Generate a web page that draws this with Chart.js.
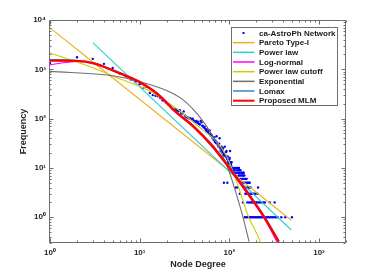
<!DOCTYPE html>
<html>
<head>
<meta charset="utf-8">
<script src="https://cdn.jsdelivr.net/npm/chart.js@4"></script>
<style>
  html, body { margin: 0; padding: 0; background: #fff; }
  canvas { display: block; }
</style>
</head>
<body>
<canvas id="degreeChart" width="382" height="273"></canvas>
<script>
// ---- data ----
const xTickValues = [1, 10, 100, 1000];
const xTickLabels = ['10⁰', '10¹', '10²', '10³'];
const yTickValues = [1, 10, 100, 1000, 10000];
const yTickLabels = ['10⁰', '10¹', '10²', '10³', '10⁴'];

const seriesNames = ['ca-AstroPh Network', 'Pareto Type-I', 'Power law', 'Log-normal',
                     'Power law cutoff', 'Exponential', 'Lomax', 'Proposed MLM'];

// observed degree distribution, one point per degree in the head
const headDegrees = [];
for (let k = 1; k <= 106; k++) headDegrees.push(k);
const headCounts = [1350, 1750, 1630, 1290, 1060, 820, 720, 620, 560, 500,
                    420, 440, 330, 300, 290, 285, 262, 236, 228, 207,
                    190, 176, 160, 151, 155, 150, 141, 148, 130, 126,
                    140, 116, 109, 105, 104, 99, 101, 96, 100, 92,
                    88, 85, 90, 81, 86, 78, 76, 90, 84, 72,
                    70, 66, 68, 62, 56, 60, 52, 55, 50, 58,
                    48, 45, 47, 44, 41, 40, 37, 42, 34, 36,
                    32, 44, 33, 30, 29, 27, 31, 40, 26, 22,
                    24, 27, 21, 23, 25, 19, 18, 20, 27, 18,
                    17, 21, 22, 16, 15, 17, 13, 14, 12, 15,
                    16, 22, 13, 12, 11, 13];

// tail: degrees seen on each low-count row
const tailCounts = [10, 9, 8, 7, 6, 5, 4, 3, 2, 1];
const tailDegrees = [
  [107, 111, 116, 120, 124, 128],
  [109, 113, 115, 122, 126, 130, 133],
  [114, 119, 125, 129, 134, 138, 142, 145],
  [117, 127, 131, 136, 140, 144, 147],
  [121, 132, 135, 139, 143, 149, 153, 156],
  [87, 95, 137, 141, 146, 150, 155, 160, 165, 169],
  [118, 123, 148, 152, 158, 163, 167, 172, 209],
  [131, 151, 157, 162, 170, 175, 181, 188, 195, 206],
  [142, 159, 166, 174, 179, 185, 192, 198, 205, 214, 222, 231, 240, 249, 282, 320],
  [149, 154, 161, 168, 171, 177, 183, 190, 197, 203, 211, 218, 226, 235, 244, 254,
   264, 275, 287, 300, 314, 330, 346, 380, 420, 499]
];

// fitted curves
const paretoX = [1, 491];
const paretoY = [6930, 0.87];
const powerX = [3.02, 491];
const powerY = [3440, 0.55];
const lognormX = [1, 1.5, 2, 3.16, 5, 7.94, 10, 15.8, 25.1, 39.8, 63.1, 100, 158, 251, 345];
const lognormY = [1230, 1370, 1440, 1290, 940, 662, 542, 312, 136, 68, 28.5, 9.7, 3.0, 0.88, 0.30];
const cutoffX = [1, 3, 6, 11.5, 23.8, 47, 72, 89, 106, 126, 162, 224, 251];
const cutoffY = [2150, 1080, 640, 405, 178, 66, 34, 20, 10, 4.2, 1.07, 0.3, 0.14];
const expoX = [1, 5, 10, 20, 30, 40, 50, 60, 72, 85, 101, 120, 140, 166];
const expoY = [910, 740, 560, 370, 245, 150, 92, 57, 33, 17, 7.8, 2.9, 1.1, 0.32];
const lomaxX = [1, 2, 3.16, 5, 7.94, 10, 15.8, 25.1, 39.8, 63.1, 100, 158, 251, 360];
const lomaxY = [1580, 1510, 1330, 975, 690, 565, 326, 145, 72, 31, 10.8, 3.4, 1.0, 0.32];
const mlmX = [1, 2, 3.16, 5, 7.94, 10, 15.8, 25.1, 39.8, 63.1, 100, 158, 251, 355];
const mlmY = [1500, 1480, 1300, 950, 670, 550, 316, 138, 69, 29, 10, 3.2, 0.93, 0.32];

const colors = ['#0000ff', '#edb120', '#2ecfcf', '#ff00ff', '#cccc00', '#707070', '#2f86cc', '#ff0000'];

// ---- build datasets ----
const pts = (xs, ys) => xs.map((x, i) => ({ x: x, y: ys[i] }));

const observed = pts(headDegrees, headCounts);
tailCounts.forEach((c, r) => {
    tailDegrees[r].forEach(d => observed.push({ x: d, y: c }));
});

const curve = (i, xs, ys, width, order) => ({
    label: seriesNames[i],
    data: pts(xs, ys),
    showLine: true,
    borderColor: colors[i],
    borderWidth: width,
    pointRadius: 0,
    cubicInterpolationMode: 'monotone',
    order: order
});

const FONT = '"Liberation Sans", Arial, Helvetica, sans-serif';

// axes box with inward major/minor ticks on all four sides (MATLAB style)
const boxTicks = {
    id: 'boxTicks',
    afterDatasetsDraw(chart) {
        const { ctx, chartArea: a, scales } = chart;
        ctx.save();
        ctx.strokeStyle = '#6e6e6e';
        ctx.lineWidth = 1;
        ctx.beginPath();
        const L = Math.round(a.left) - 0.5, R = Math.round(a.right) - 0.5;
        const T = Math.round(a.top) + 0.5, B = Math.round(a.bottom) - 0.5;
        ctx.rect(L, T, R - L, B - T);

        const each = (scale, fn) => {
            const lo = Math.floor(Math.log10(scale.min)), hi = Math.ceil(Math.log10(scale.max));
            for (let e = lo; e <= hi; e++) {
                for (let m = 1; m <= 9; m++) {
                    const v = m * Math.pow(10, e);
                    if (v < scale.min * 0.999 || v > scale.max * 1.001) continue;
                    fn(Math.round(scale.getPixelForValue(v)) + 0.5, m === 1 ? 4 : 2);
                }
            }
        };
        each(scales.x, (px, len) => {
            ctx.moveTo(px, B); ctx.lineTo(px, B - len);
            ctx.moveTo(px, T); ctx.lineTo(px, T + len);
        });
        each(scales.y, (py, len) => {
            ctx.moveTo(L, py); ctx.lineTo(L + len, py);
            ctx.moveTo(R, py); ctx.lineTo(R - len, py);
        });
        ctx.stroke();
        ctx.restore();
    }
};

// legend drawn inside the axes, top right
const insideLegend = {
    id: 'insideLegend',
    afterDraw(chart) {
        const { ctx, chartArea: a } = chart;
        const w = 106, h = 78;
        const x0 = Math.round(a.right) - 8.5 - w, y0 = Math.round(a.top) + 7.5;
        ctx.save();
        ctx.fillStyle = '#ffffff';
        ctx.fillRect(x0, y0, w, h);
        ctx.strokeStyle = '#6e6e6e';
        ctx.lineWidth = 1;
        ctx.strokeRect(x0, y0, w, h);
        ctx.font = 'bold 8px ' + FONT;
        ctx.textBaseline = 'middle';
        ctx.textAlign = 'left';
        seriesNames.forEach((name, i) => {
            const y = y0 + 5.5 + i * 9.67;
            if (i === 0) {
                ctx.fillStyle = colors[0];
                ctx.fillRect(x0 + 11, y - 1, 2, 2);
            } else {
                ctx.strokeStyle = colors[i];
                ctx.lineWidth = i === 7 ? 2 : 1.5;
                ctx.beginPath();
                ctx.moveTo(x0 + 1.5, y);
                ctx.lineTo(x0 + 23, y);
                ctx.stroke();
            }
            ctx.fillStyle = '#1a1a1a';
            ctx.fillText(name, x0 + 27.5, y + 0.5);
        });
        ctx.restore();
    }
};

const tickFont = { family: FONT, size: 8, weight: 'bold' };
const titleFont = { family: FONT, size: 9, weight: 'bold' };

new Chart(document.getElementById('degreeChart'), {
    type: 'scatter',
    data: {
        datasets: [
            {
                label: seriesNames[0],
                data: observed,
                backgroundColor: colors[0],
                borderColor: colors[0],
                borderWidth: 0,
                pointRadius: 1.2,
                order: 7
            },
            curve(1, paretoX, paretoY, 1.1, 6),
            curve(2, powerX, powerY, 1.1, 5),
            curve(3, lognormX, lognormY, 1.1, 4),
            curve(4, cutoffX, cutoffY, 1.1, 3),
            curve(5, expoX, expoY, 1.1, 2),
            curve(6, lomaxX, lomaxY, 1.2, 1),
            curve(7, mlmX, mlmY, 2.4, 0)
        ]
    },
    options: {
        responsive: false,
        animation: false,
        devicePixelRatio: 1,
        layout: { padding: { top: 20, right: 36, left: 0, bottom: 0 } },
        plugins: { legend: { display: false }, tooltip: { enabled: false } },
        scales: {
            x: {
                type: 'logarithmic',
                min: 1,
                max: 2000,
                afterBuildTicks: s => { s.ticks = xTickValues.map(v => ({ value: v })); },
                afterFit: s => { s.height = 30; },
                grid: { display: false, drawTicks: false },
                border: { display: false },
                ticks: {
                    autoSkip: false, maxRotation: 0, padding: 5,
                    color: '#262626', font: tickFont,
                    callback: v => xTickLabels[xTickValues.indexOf(v)]
                },
                title: {
                    display: true, text: 'Node Degree', color: '#262626', font: titleFont,
                    padding: { top: 0, bottom: 3 }
                }
            },
            y: {
                type: 'logarithmic',
                min: 0.3,
                max: 10000,
                afterBuildTicks: s => { s.ticks = yTickValues.map(v => ({ value: v })); },
                afterFit: s => { s.width = 50; },
                grid: { display: false, drawTicks: false },
                border: { display: false },
                ticks: {
                    autoSkip: false, padding: 4,
                    color: '#262626', font: tickFont,
                    callback: v => yTickLabels[yTickValues.indexOf(v)]
                },
                title: {
                    display: true, text: 'Frequency', color: '#262626', font: titleFont,
                    padding: { top: 18.5, bottom: 0 }
                }
            }
        }
    },
    plugins: [boxTicks, insideLegend]
});
</script>
</body>
</html>
